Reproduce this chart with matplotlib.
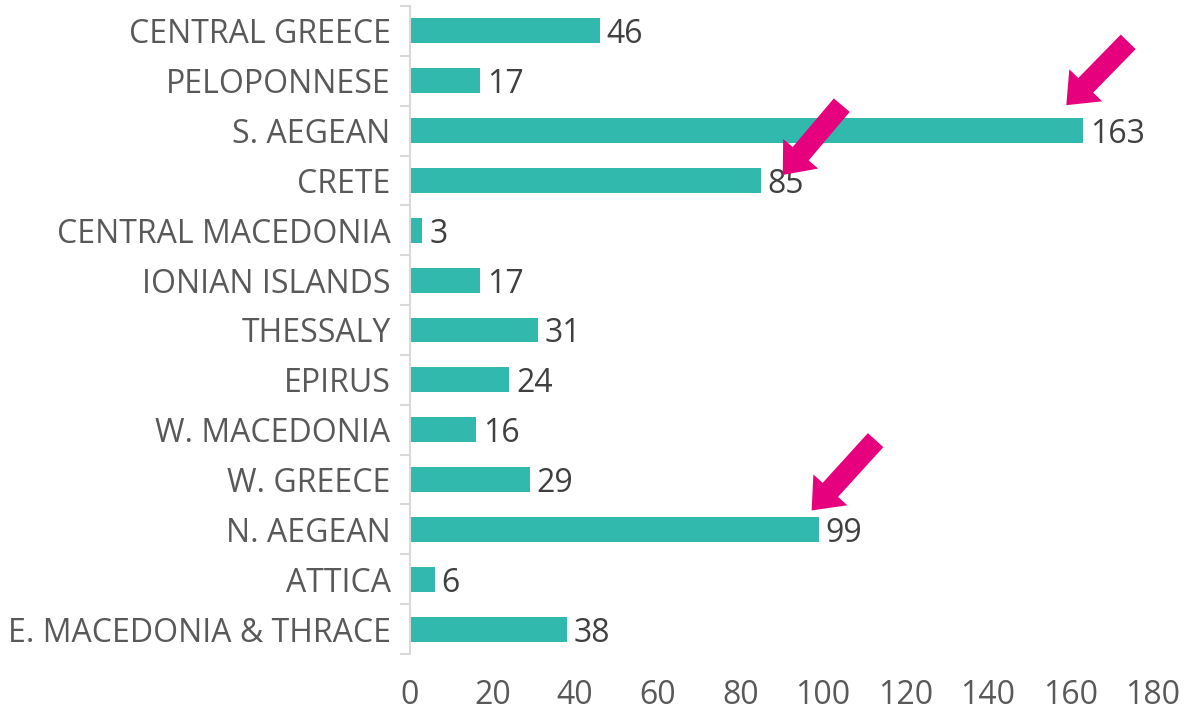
import matplotlib.pyplot as plt
from matplotlib.ticker import FixedLocator

plt.rcParams['font.family'] = ['Open Sans', 'DejaVu Sans']

regions = ['CENTRAL GREECE', 'PELOPONNESE', 'S. AEGEAN', 'CRETE',
           'CENTRAL MACEDONIA', 'IONIAN ISLANDS', 'THESSALY', 'EPIRUS',
           'W. MACEDONIA', 'W. GREECE', 'N. AEGEAN', 'ATTICA',
           'E. MACEDONIA & THRACE']
values = [46, 17, 163, 85, 3, 17, 31, 24, 16, 29, 99, 6, 38]
xticks = [0, 20, 40, 60, 80, 100, 120, 140, 160, 180]

# arrows: (tail x, tail y, tip x, tip y) in data units
arrows = [(174, 0.22, 159, 1.49),
          (104.6, 1.49, 90.3, 2.89),
          (112.8, 8.21, 97.3, 9.62)]

bar_color = '#31b9ad'
arrow_color = '#e6007e'
fs = 23

fig = plt.figure(figsize=(11.84, 7.12), dpi=100)
ax = fig.add_axes([0.3463, 0.0815, 0.6275, 0.9101])

pos = list(range(len(regions)))
ax.barh(pos, values, height=0.5, color=bar_color)
for p, v in zip(pos, values):
    ax.annotate(str(v), (v, p), xytext=(5, 0), textcoords='offset points',
                va='center_baseline', ha='left', fontsize=fs, color='#404040')

for tx, ty, hx, hy in arrows:
    ax.annotate('', xy=(hx, hy), xytext=(tx, ty),
                arrowprops=dict(arrowstyle='simple,head_width=33,head_length=20,tail_width=15',
                                mutation_scale=1, color=arrow_color, lw=0,
                                shrinkA=0, shrinkB=0))

ax.set_xlim(0, 180)
ax.set_ylim(len(regions) - 0.5, -0.5)
ax.set_xticks(xticks)
ax.set_yticks(pos)
ax.set_yticklabels(regions, va='center_baseline')
ax.yaxis.set_minor_locator(FixedLocator([i - 0.5 for i in range(len(regions) + 1)]))

ax.tick_params(axis='y', which='major', length=0, pad=14, labelsize=fs, labelcolor='#595959')
ax.tick_params(axis='y', which='minor', length=7, width=1.5, color='#d9d9d9')
ax.tick_params(axis='x', length=0, pad=18, labelsize=fs, labelcolor='#595959')

for s in ['top', 'right', 'bottom']:
    ax.spines[s].set_visible(False)
ax.spines['left'].set_color('#d9d9d9')
ax.spines['left'].set_linewidth(1.5)

fig.savefig('out.png', dpi=100)
